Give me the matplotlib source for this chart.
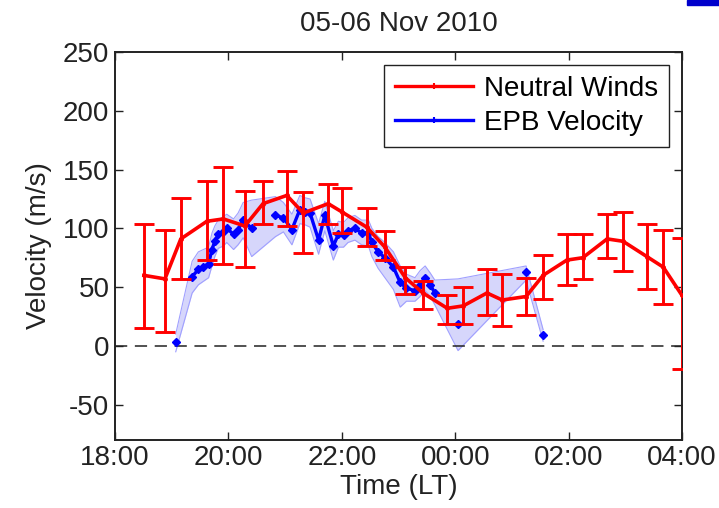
import matplotlib
matplotlib.use("Agg")
import matplotlib.pyplot as plt
import numpy as np
from matplotlib.patches import Rectangle

# ---------------- data ----------------
title = "05-06 Nov 2010"
tick_pos = [18, 20, 22, 24, 26, 28]
tick_labels = ["18:00", "20:00", "22:00", "00:00", "02:00", "04:00"]
ytick_pos = [-50, 0, 50, 100, 150, 200, 250]

# Neutral winds (clock hours, >24 = next day)
nw_time = [18.51, 18.88, 19.16, 19.62, 19.91, 20.29, 20.61, 21.03, 21.32, 21.76,
           22.00, 22.44, 22.76, 23.12, 23.43, 23.86, 24.14, 24.56, 24.83, 25.25,
           25.55, 25.97, 26.25, 26.68, 26.96, 27.38, 27.67, 28.00]
nw_vel = [60, 57, 91, 106, 108, 102, 121, 128, 113, 121,
          114, 101, 84, 58, 45, 32, 34, 45, 39, 42,
          60, 73, 75, 91, 89, 76, 67, 43]
nw_top = [104, 99, 126, 140, 152, 132, 140, 149, 131, 138,
          134, 117, 98, 67, 55, 43, 50, 65, 61, 58,
          77, 95, 95, 112, 114, 104, 99, 92]
nw_bot = [15, 12, 57, 73, 70, 67, 104, 102, 79, 104,
          96, 85, 73, 44, 31, 19, 19, 26, 17, 26,
          40, 52, 57, 75, 64, 48, 36, -20]

# EPB velocity
epb_time = [19.07, 19.36, 19.47, 19.56, 19.65, 19.71, 19.76, 19.82, 19.91, 19.97,
            20.09, 20.17, 20.26, 20.41, 20.83, 20.97, 21.12, 21.26, 21.35, 21.44,
            21.59, 21.70, 21.85, 21.94, 22.03, 22.11, 22.23, 22.35, 22.47, 22.53,
            22.64, 22.76, 22.91, 23.03, 23.14, 23.29, 23.38, 23.47, 23.56, 23.64,
            24.05, 25.25, 25.55]
epb_vel = [3, 59, 65, 67, 70, 82, 89, 95, 97, 100,
           95, 99, 107, 100, 111, 109, 99, 116, 114, 113,
           90, 111, 85, 95, 94, 98, 100, 96, 96, 88,
           80, 75, 67, 54, 49, 47, 52, 58, 52, 45,
           19, 63, 9]
epb_lo = [-5, 45, 52, 55, 58, 68, 76, 83, 85, 88,
          82, 86, 92, 76, 93, 97, 86, 104, 103, 101,
          78, 98, 73, 84, 84, 88, 90, 86, 85, 76,
          66, 58, 48, 33, 38, 38, 42, 47, 42, 35,
          -4, 56, 4]
epb_hi = [10, 72, 80, 82, 84, 96, 102, 107, 110, 112,
          108, 113, 122, 124, 127, 122, 112, 128, 126, 125,
          104, 123, 98, 106, 105, 109, 111, 107, 107, 100,
          93, 88, 80, 68, 61, 58, 64, 68, 62, 56,
          57, 68, 14]

# ---------------- plot ----------------
plt.rcParams['font.family'] = ['Liberation Sans', 'DejaVu Sans']
plt.rcParams['axes.unicode_minus'] = False
fig = plt.figure(figsize=(7.19, 5.08), dpi=100)
ax = fig.add_axes([0.160, 0.134, 0.7885, 0.7636])

t_e = np.array(epb_time)
v_e = np.array(epb_vel, dtype=float)

# band
ax.fill_between(t_e, epb_lo, epb_hi, color='#d6d6fb', lw=0, zorder=1)
ax.plot(t_e, epb_lo, color='#a0a0ff', lw=0.8, zorder=1.5)
ax.plot(t_e, epb_hi, color='#a0a0ff', lw=0.8, zorder=1.5)

# blue line split where gaps are large
breaks = np.where(np.diff(t_e) > 0.25)[0] + 1
segs = np.split(np.arange(len(t_e)), breaks)
for idx in segs:
    ax.plot(t_e[idx], v_e[idx], color='#0000ff', lw=2.4, marker='D', ms=4.5,
            zorder=3)

# zero line
ax.axhline(0, color='#222222', lw=1.1, ls=(0, (8, 5)), zorder=2)

# neutral winds
t_n = np.array(nw_time)
v_n = np.array(nw_vel, dtype=float)
yerr = [v_n - np.array(nw_bot), np.array(nw_top) - v_n]
ax.errorbar(t_n, v_n, yerr=yerr, color='#ff0000', lw=2.6, elinewidth=2.1,
            capsize=7, capthick=2.1, marker='.', ms=5, zorder=4)

# legend proxies
h1, = ax.plot([], [], color='#ff0000', lw=2.4, marker='+', ms=5, mew=1.5)
h2, = ax.plot([], [], color='#0000ff', lw=2.4, marker='+', ms=5, mew=1.5)
leg = ax.legend([h1, h2], ["Neutral Winds", "EPB Velocity"], loc='upper right',
                fontsize=20, frameon=True, fancybox=False, edgecolor='#222222',
                framealpha=1, borderaxespad=0.45, handlelength=2.8,
                handletextpad=0.4, borderpad=0.4, labelspacing=0.3)
leg.get_frame().set_linewidth(1.0)

ax.set_xlim(18, 28)
ax.set_ylim(-80, 250)
ax.set_xticks(tick_pos)
ax.set_xticklabels(tick_labels)
ax.set_yticks(ytick_pos)
ax.tick_params(direction='in', length=6, width=1.0, top=True, right=True,
               labelsize=20, colors='#222222', pad=4)
for s in ax.spines.values():
    s.set_linewidth(1.4)
    s.set_color('#222222')

ax.set_xlabel("Time (LT)", fontsize=20, color='#222222', labelpad=2)
ax.set_ylabel("Velocity (m/s)", fontsize=20, color='#222222', labelpad=8)
ax.set_title(title, fontsize=20, color='#222222', pad=15)

# fragment of adjacent panel letter at top-right edge
fig.patches.append(Rectangle((687 / 719, 1 - 5 / 508), 32 / 719, 5 / 508,
                             transform=fig.transFigure, color='#0000cc',
                             zorder=10))

fig.savefig("out.png", dpi=100)
